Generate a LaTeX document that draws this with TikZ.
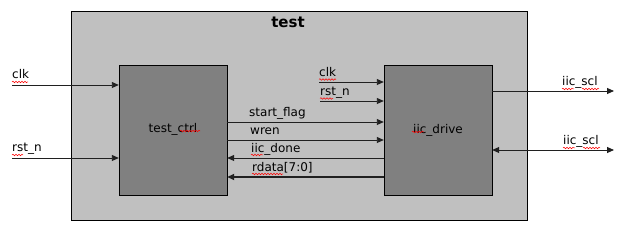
\documentclass[tikz,border=0pt]{standalone}
\usepackage{fontspec}
\setmainfont{DejaVu Sans}
\usetikzlibrary{arrows.meta,decorations.pathmorphing}
\definecolor{topfill}{HTML}{C0C0C0}
\definecolor{modfill}{HTML}{808080}
\definecolor{wire}{HTML}{202020}
\begin{document}
\begin{tikzpicture}[
            x=1pt, y=-1pt,
            module/.style={rectangle, draw, fill=modfill, minimum width=108pt, minimum height=130pt, inner sep=0pt, font=\fontsize{12}{14}\selectfont},
            sig/.style={draw=wire, line width=0.9pt, -{Triangle[length=7pt,width=6pt]}},
            bus/.style={sig, line width=1.8pt},
            pin/.style={anchor=base west, inner sep=0pt, font=\fontsize{12}{14}\selectfont},
            spell/.style={draw=red, line width=0.5pt, decorate, decoration={snake, segment length=3pt, amplitude=0.8pt}}
        ]
            \useasboundingbox (0,0) rectangle (637,237);
            \node[rectangle, draw, line width=0.9pt, fill=topfill, minimum width=456pt, minimum height=209pt] (top) at (299,115.5) {};
            \node[font=\bfseries\fontsize{15}{17}\selectfont, inner sep=0pt] (title) at (288,22) {test};
            \node[module] (ctrl) at (173,130) {\raisebox{4pt}{test\_ctrl}};
            \node[module] (drv) at (438,130.5) {\raisebox{4pt}{iic\_drive}};
            % rows of the wires
            \coordinate (clkin) at (12,85);
            \coordinate (rstin) at (12,158);
            \coordinate (r1) at (0,122);
            \coordinate (r2) at (0,140);
            \coordinate (r3) at (0,158);
            \coordinate (r4) at (0,177);
            \coordinate (dclk) at (319,82);
            \coordinate (drst) at (320,101);
            \coordinate (sclout) at (614,91);
            \coordinate (sdaio) at (614,150);
            % top level inputs
            \draw[sig] (clkin) -- (clkin -| ctrl.west);
            \draw[sig] (rstin) -- (rstin -| ctrl.west);
            \node[pin] (lclk) at (12,79) {clk};
            \node[pin] (lrst) at (12,152) {rst\_n};
            % between the modules
            \draw[sig] (ctrl.east |- r1) -- (drv.west |- r1);
            \draw[sig] (ctrl.east |- r2) -- (drv.west |- r2);
            \draw[sig] (drv.west |- r3) -- (ctrl.east |- r3);
            \draw[bus] (drv.west |- r4) -- (ctrl.east |- r4);
            \node[pin] (lflag) at (249,117) {start\_flag};
            \node[pin] (lwren) at (250,135) {wren};
            \node[pin] (ldone) at (251,153) {iic\_done};
            \node[pin] (ldata) at (252,172) {rdata[7:0]};
            % inputs of iic_drive
            \draw[sig] (dclk) -- (dclk -| drv.west);
            \draw[sig] (drst) -- (drst -| drv.west);
            \node[pin] (dlclk) at (319,77) {clk};
            \node[pin] (dlrst) at (320,96) {rst\_n};
            % outputs
            \draw[sig] (drv.east |- sclout) -- (sclout);
            \draw[sig, {Triangle[length=7pt,width=6pt]}-{Triangle[length=7pt,width=6pt]}] (drv.east |- sdaio) -- (sdaio);
            \node[pin] (lscl) at (562,86) {iic\_scl};
            \node[pin] (lsda) at (563,145) {iic\_scl};
            % spelling marks
            \draw[spell] (12,82) -- (28,82);
            \draw[spell] (12,155) -- (23,155);
            \draw[spell] (180,131) -- (200,131);
            \draw[spell] (251,155) -- (263,155);
            \draw[spell] (252,174) -- (283,174);
            \draw[spell] (319,79.5) -- (336,79.5);
            \draw[spell] (320,98.5) -- (333,98.5);
            \draw[spell] (412,132) -- (424,132);
            \draw[spell] (562,89) -- (574,89);
            \draw[spell] (582,89) -- (599,89);
            \draw[spell] (563,148) -- (575,148);
            \draw[spell] (583,148) -- (600,148);
        \end{tikzpicture}
\end{document}
